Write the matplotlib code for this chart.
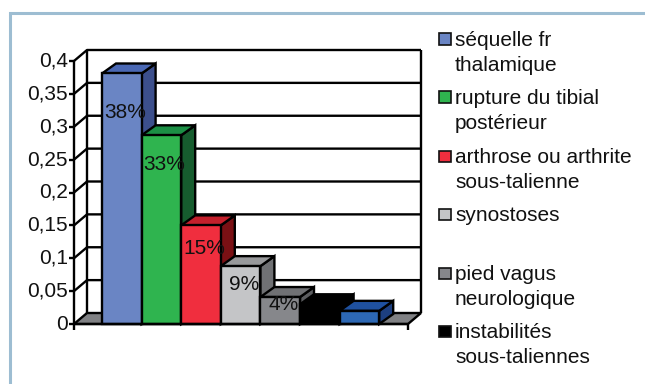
import matplotlib
matplotlib.use('Agg')
import matplotlib.pyplot as plt
from matplotlib.patches import Polygon, Rectangle
from matplotlib.lines import Line2D

plt.rcParams['font.family'] = ['Liberation Sans', 'DejaVu Sans']

values = [0.381, 0.287, 0.15, 0.088, 0.041, 0.03, 0.02]
labels = ['38%', '33%', '15%', '9%', '4%', None, None]
names = ['séquelle fr\nthalamique', 'rupture du tibial\npostérieur',
         'arthrose ou arthrite\nsous-talienne', 'synostoses',
         'pied vagus\nneurologique', 'instabilités\nsous-taliennes']
ticks = [0, 0.05, 0.1, 0.15, 0.2, 0.25, 0.3, 0.35, 0.4]
tick_labels = ['0', '0,05', '0,1', '0,15', '0,2', '0,25', '0,3', '0,35', '0,4']
front = ['#6a85c4', '#2fb44f', '#f02e3e', '#c4c5c7', '#86878b', '#000000', '#2d68b4']
side = ['#3c4f8c', '#165c2e', '#7a1014', '#707174', '#5c5d60', '#000000', '#1d3f80']
top = ['#4a68b4', '#1c8f45', '#c4202c', '#98999b', '#707174', '#000000', '#1f51a0']

W, H = 645, 384
fig = plt.figure(figsize=(W / 100, H / 100), dpi=100, facecolor='white')
# axes = front plane of the chart, 74..408 px wide, 324..61 px high
ax = fig.add_axes([74 / W, 1 - 324 / H, (408 - 74) / W, (324 - 61) / H])
x0, x1 = -0.707, 7.727
ax.set_xlim(x0, x1)
ax.set_ylim(0, 0.4)
ax.axis('off')

px = (x1 - x0) / (408 - 74)     # data units per pixel, x
py = 0.4 / (324 - 61)     # data units per pixel, y
wx, wy = 13 * px, 11 * py   # wall depth
bx, by = 14 * px, 10 * py   # bar depth
lw = 1.7
fs = 15


def poly(pts, fc, z):
    ax.add_patch(Polygon(pts, closed=True, fc=fc, ec='black', lw=lw, zorder=z,
                         clip_on=False, joinstyle='miter'))


def line(xs, ys, z=2, w=lw):
    ax.add_line(Line2D(xs, ys, color='black', lw=w, zorder=z, clip_on=False,
                       solid_capstyle='butt'))


# floor and walls
poly([(x0, 0), (x1, 0), (x1 + wx, wy), (x0 + wx, wy)], '#808184', 1)
line([x0 + wx, x0 + wx], [wy, 0.4 + wy])
line([x1 + wx, x1 + wx], [wy, 0.4 + wy])
for t in ticks[1:]:
    line([x0, x0 + wx, x1 + wx], [t, t + wy, t + wy])
line([x0, x0], [0, 0.4], 6)
line([x0, x1], [0, 0], 6)
for t, s in zip(ticks, tick_labels):
    line([x0 - 5 * px, x0], [t, t], 6)
    ax.text(x0 - 6 * px, t, s, ha='right', va='center', fontsize=fs, color='#111111')
line([x0, x0], [0, -6 * py], 6)
line([x1, x1], [0, -6 * py], 6)

# bars
for i, v in enumerate(values):
    z = 3 + i * 0.1
    poly([(i + 1, 0), (i + 1 + bx, by), (i + 1 + bx, v + by), (i + 1, v)], side[i], z)
    poly([(i, v), (i + bx, v + by), (i + 1 + bx, v + by), (i + 1, v)], top[i], z)
    ax.bar(i, v, width=1, align='edge', color=front[i], edgecolor='black', lw=lw, zorder=z + 0.01,
           clip_on=False)
label_py = [113, 165, 249, 285, 305]
for i, s in enumerate(labels):
    if s:
        ax.text(i + 0.58, (324 - label_py[i]) * py, s, ha='center', va='center',
                fontsize=fs, color='#111111', zorder=10)

# legend, drawn by hand to hold the original line spacing
leg_y = [39, 97, 156, 214, 273, 331]
for i, (s, y) in enumerate(zip(names, leg_y)):
    fig.add_artist(Rectangle((439 / W, 1 - (y + 5.5) / H), 11.5 / W, 11 / H, fc=front[i], ec='#111111',
                             lw=1.2, transform=fig.transFigure))
    fig.text(455 / W, 1 - (y - 8) / H, s, ha='left', va='top', fontsize=fs, color='#111111',
             linespacing=1.37)

# frame
fig.add_artist(Line2D([9.5 / W, 9.5 / W, 1], [0, 1 - 12.5 / H, 1 - 12.5 / H], color='#9dbdd2', lw=2.2,
                      solid_joinstyle='miter'))
fig.savefig('out.png', dpi=100)
